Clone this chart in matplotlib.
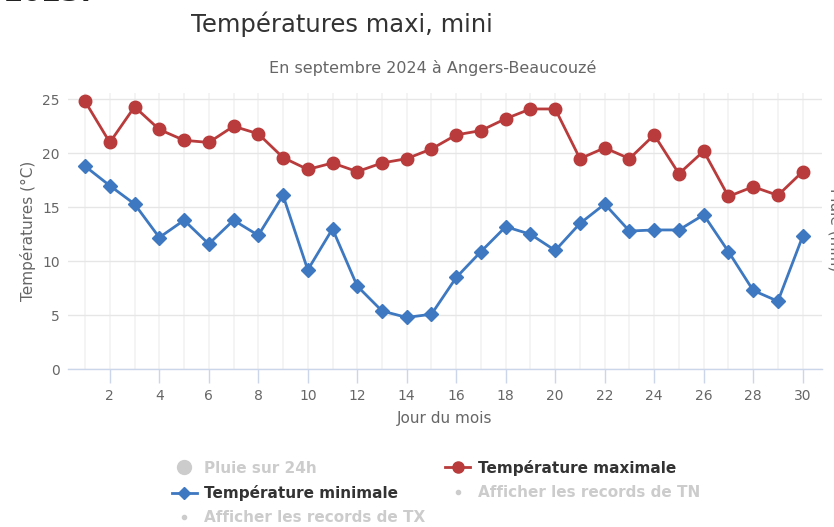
import matplotlib
matplotlib.use("Agg")
import matplotlib.pyplot as plt
from matplotlib.lines import Line2D

# September 2024, Angers-Beaucouzé
days = list(range(1, 31))
t_max = [24.8, 21.0, 24.3, 22.2, 21.2, 21.0, 22.5, 21.8, 19.6, 18.5,
         19.1, 18.3, 19.1, 19.5, 20.4, 21.7, 22.1, 23.2, 24.1, 24.1,
         19.5, 20.5, 19.5, 21.7, 18.1, 20.2, 16.0, 16.9, 16.1, 18.3]
t_min = [18.8, 17.0, 15.3, 12.2, 13.8, 11.6, 13.8, 12.4, 16.1, 9.2,
         13.0, 7.7, 5.4, 4.8, 5.1, 8.5, 10.9, 13.2, 12.5, 11.0,
         13.5, 15.3, 12.8, 12.9, 12.9, 14.3, 10.9, 7.3, 6.3, 12.3]
x_ticks = list(range(2, 31, 2))
y_ticks = [0, 5, 10, 15, 20, 25]

RED = "#b93b3b"
BLUE = "#3d78c0"
AXIS = "#ccd6eb"
GRID = "#f2f2f2"
TXT = "#666666"

fig = plt.figure(figsize=(8.34, 5.27), dpi=100)
ax = fig.add_axes([68 / 834, 1 - 369.3 / 527, (821.7 - 68) / 834, (369.3 - 93.3) / 527])

ax.plot(days, t_max, color=RED, lw=2, marker="o", ms=9, zorder=3)
ax.plot(days, t_min, color=BLUE, lw=2, marker="D", ms=7, zorder=3)

ax.set_xlim(0.31, 30.77)
ax.set_ylim(0, 25.55)
ax.xaxis.remove_overlapping_locs = False
ax.set_xticks(x_ticks)
ax.set_xticks(days, minor=True)
ax.set_yticks(y_ticks)

ax.grid(True, axis="y", color="#e6e6e6", lw=1)
ax.grid(True, axis="x", which="minor", color=GRID, lw=1.2)
ax.grid(False, axis="x", which="major")

for s in ["top", "right", "left"]:
    ax.spines[s].set_visible(False)
ax.spines["bottom"].set_color(AXIS)
ax.spines["bottom"].set_linewidth(1)

ax.tick_params(axis="x", which="major", colors=AXIS, length=10, width=1,
               labelcolor=TXT, labelsize=10, pad=4)
ax.tick_params(axis="x", which="minor", length=0)
ax.tick_params(axis="y", length=0, labelcolor=TXT, labelsize=10, pad=6)

ax.set_xlabel("Jour du mois", color=TXT, fontsize=11, labelpad=6)
ax.set_ylabel("Températures (°C)", color=TXT, fontsize=11, labelpad=4)

fig.text(342 / 834, 1 - 24 / 527, "Températures maxi, mini", ha="center",
         va="center", fontsize=17.5, color="#333333")
fig.text(433 / 834, 1 - 68 / 527, "En septembre 2024 à Angers-Beaucouzé",
         ha="center", va="center", fontsize=11.5, color=TXT)
fig.text(4 / 834, 1 - 1 / 527, "2023.", ha="left", va="baseline",
         fontsize=20, fontweight="bold", color="#222222")
fig.text(835 / 834, 1 - 230 / 527, "Pluie (mm)", ha="center", va="center",
         rotation=270, fontsize=11, color=TXT)

handles = [
    Line2D([], [], color="#cccccc", marker="o", ms=10, lw=0),
    Line2D([], [], color=BLUE, marker="D", ms=6, lw=2),
    Line2D([], [], color="#cccccc", marker="o", ms=3, lw=0),
    Line2D([], [], color=RED, marker="o", ms=8, lw=2),
    Line2D([], [], color="#cccccc", marker="o", ms=3, lw=0),
]
labels = ["Pluie sur 24h", "Température minimale", "Afficher les records de TX",
          "Température maximale", "Afficher les records de TN"]
leg = fig.legend(handles, labels, ncol=2, loc="upper center",
                 bbox_to_anchor=(436 / 834, 1 - 446 / 527), frameon=False,
                 prop={"size": 11, "weight": "bold"}, handlelength=1.6,
                 handletextpad=0.5, columnspacing=1.3, labelspacing=0.6)
for t, lab in zip(leg.get_texts(), labels):
    if lab.startswith("Température"):
        t.set_color("#333333")
    else:
        t.set_color("#cccccc")

fig.savefig("out.png", dpi=100)
